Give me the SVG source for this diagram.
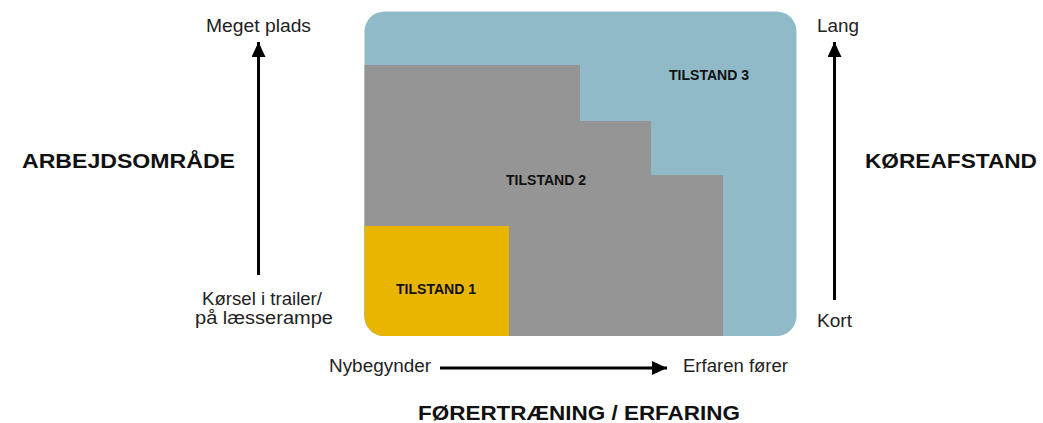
<svg xmlns="http://www.w3.org/2000/svg" width="1043" height="423" viewBox="0 0 1043 423">
<style>
.lbl{font-family:"Liberation Sans",Arial,sans-serif;font-size:17.5px;fill:#222;}
.ttl{font-family:"Liberation Sans",Arial,sans-serif;font-size:21px;font-weight:bold;fill:#111;}
.st{font-family:"Liberation Sans",Arial,sans-serif;font-size:14.5px;font-weight:bold;fill:#111;text-anchor:middle;}
.ax{stroke:#000;stroke-width:3;fill:none;marker-end:url(#ah);}
</style>
<defs>
<marker id="ah" markerUnits="userSpaceOnUse" markerWidth="16" markerHeight="14" refX="15" refY="7" orient="auto">
<path d="M0,0 L15,7 L0,14 Z" fill="#000"/>
</marker>
<clipPath id="box"><rect x="364.5" y="11.5" width="432" height="324.5" rx="20" ry="20"/></clipPath>
</defs>
<rect width="1043" height="423" fill="#fff"/>
<g id="tilstand3">
<rect x="364.5" y="11.5" width="432" height="324.5" rx="20" ry="20" fill="#90BAC8"/>
<text class="st" x="709" y="80" textLength="80" lengthAdjust="spacingAndGlyphs">TILSTAND 3</text>
</g>
<g id="tilstand2" clip-path="url(#box)">
<path d="M364,65 H580 V121 H651 V175 H723 V337 H364 Z" fill="#959595"/>
<text class="st" x="546" y="185" textLength="80" lengthAdjust="spacingAndGlyphs">TILSTAND 2</text>
</g>
<g id="tilstand1" clip-path="url(#box)">
<rect x="364" y="226" width="145" height="111" fill="#E8B500"/>
<text class="st" x="436" y="294" textLength="80" lengthAdjust="spacingAndGlyphs">TILSTAND 1</text>
</g>
<g id="connectors">
<line class="ax" x1="258.5" y1="275" x2="258.5" y2="42"/>
<line class="ax" x1="834.5" y1="300" x2="834.5" y2="42"/>
<line class="ax" x1="440" y1="368" x2="667" y2="368"/>
</g>
<g id="labels">
<text class="lbl" x="206" y="32" textLength="105" lengthAdjust="spacingAndGlyphs">Meget plads</text>
<text class="lbl" x="202" y="305" textLength="120" lengthAdjust="spacingAndGlyphs">Kørsel i trailer/</text>
<text class="lbl" x="195" y="324" textLength="138" lengthAdjust="spacingAndGlyphs">på læsserampe</text>
<text class="lbl" x="817" y="32" textLength="42" lengthAdjust="spacingAndGlyphs">Lang</text>
<text class="lbl" x="817" y="327" textLength="35" lengthAdjust="spacingAndGlyphs">Kort</text>
<text class="lbl" x="329" y="372" textLength="102" lengthAdjust="spacingAndGlyphs">Nybegynder</text>
<text class="lbl" x="683" y="372" textLength="105" lengthAdjust="spacingAndGlyphs">Erfaren fører</text>
</g>
<g id="titles">
<text class="ttl" x="22" y="167.5" textLength="213" lengthAdjust="spacingAndGlyphs">ARBEJDSOMRÅDE</text>
<text class="ttl" x="865" y="167.5" textLength="172" lengthAdjust="spacingAndGlyphs">KØREAFSTAND</text>
<text class="ttl" x="418" y="420" textLength="322" lengthAdjust="spacingAndGlyphs">FØRERTRÆNING / ERFARING</text>
</g>
</svg>
